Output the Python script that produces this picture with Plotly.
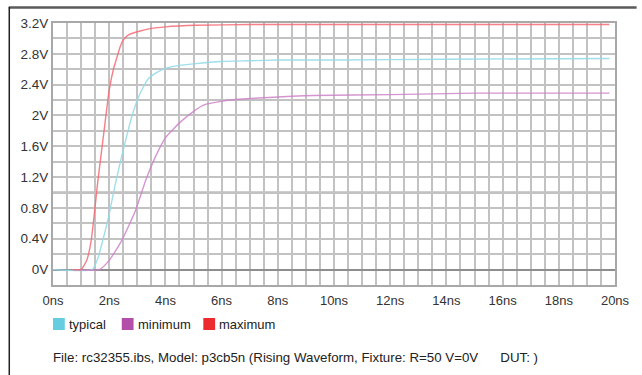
import plotly.graph_objects as go

# ---- data ----
series_names = ["typical", "minimum", "maximum"]

typical_t = [0, 1.4, 1.6, 1.8, 2.0, 2.2, 2.4, 2.6, 2.8, 3.0, 3.2, 3.4, 3.7, 4.0, 4.5, 5.0, 6.0, 7.0, 8.0, 10, 14, 19.8]
typical_v = [0, 0, 0.15, 0.42, 0.72, 1.08, 1.4, 1.7, 1.98, 2.2, 2.36, 2.48, 2.56, 2.61, 2.65, 2.67, 2.7, 2.71, 2.72, 2.72, 2.73, 2.74]

minimum_t = [0.7, 1.65, 2.0, 2.45, 2.94, 3.3, 3.64, 4.0, 4.55, 5.03, 5.4, 6.3, 7.5, 9.3, 12, 15, 19.8]
minimum_v = [0, 0, 0.12, 0.38, 0.77, 1.16, 1.46, 1.71, 1.92, 2.06, 2.14, 2.2, 2.23, 2.26, 2.27, 2.29, 2.29]

maximum_t = [0.7, 1.0, 1.2, 1.36, 1.6, 1.8, 2.0, 2.15, 2.28, 2.4, 2.5, 2.7, 3.04, 3.5, 4.0, 5.1, 7, 10, 19.8]
maximum_v = [0, 0, 0.12, 0.38, 1.16, 1.75, 2.33, 2.6, 2.76, 2.9, 2.98, 3.05, 3.09, 3.13, 3.15, 3.17, 3.18, 3.18, 3.18]

x_tickvals = [0, 2, 4, 6, 8, 10, 12, 14, 16, 18, 20]
x_ticktext = ["0ns", "2ns", "4ns", "6ns", "8ns", "10ns", "12ns", "14ns", "16ns", "18ns", "20ns"]
y_tickvals = [0, 0.4, 0.8, 1.2, 1.6, 2.0, 2.4, 2.8, 3.2]
y_ticktext = ["0V", "0.4V", "0.8V", "1.2V", "1.6V", "2V", "2.4V", "2.8V", "3.2V"]

footer_text = ("File: rc32355.ibs, Model: p3cb5n (Rising Waveform, Fixture: R=50 V=0V"
               "\u00a0\u00a0\u00a0\u00a0\u00a0\u00a0DUT: )")

# ---- styling ----
swatch_colors = ["#66cde0", "#b34fab", "#ec2a2f"]
line_colors = ["rgba(150,218,232,0.9)", "rgba(205,130,200,0.85)", "rgba(245,105,115,0.85)"]
FONT = "Liberation Sans, Arial, sans-serif"
GRID = "#c2c2c2"

W, H = 642, 375
L, R, T, B = 53, 17, 23, 90
PW, PH = W - L - R, H - T - B


def px_x(px):
    return (px - L) / PW


def px_y(py):
    return (H - B - py) / PH


fig = go.Figure()
series = [(typical_t, typical_v), (minimum_t, minimum_v), (maximum_t, maximum_v)]
for i, (t, v) in enumerate(series):
    fig.add_trace(go.Scatter(x=t, y=v, mode="lines", name=series_names[i],
                             line=dict(color=line_colors[i], width=1.4, shape="spline", smoothing=0.5),
                             showlegend=False, hoverinfo="skip"))

shapes = []
# darker reference line at 1V
shapes.append(dict(type="line", xref="x", yref="y", x0=0, x1=20, y0=1.0, y1=1.0,
                   line=dict(color="#a0a0a0", width=2), layer="below"))
# outer frame (top and left)
shapes.append(dict(type="line", xref="paper", yref="paper", x0=px_x(8), x1=px_x(W + 5),
                   y0=px_y(7.5), y1=px_y(7.5), line=dict(color="#5a5a5a", width=2.5)))
shapes.append(dict(type="line", xref="paper", yref="paper", x0=px_x(8.5), x1=px_x(8.5),
                   y0=px_y(7), y1=px_y(H + 5), line=dict(color="#222222", width=1.5)))

annotations = []
# manual legend
legend_swatch_x = [53, 123, 206]
for i, name in enumerate(series_names):
    x0 = legend_swatch_x[i]
    shapes.append(dict(type="rect", xref="paper", yref="paper",
                       x0=px_x(x0), x1=px_x(x0 + 12), y0=px_y(318), y1=px_y(330),
                       fillcolor=swatch_colors[i], line=dict(width=0)))
    annotations.append(dict(xref="paper", yref="paper", x=px_x(x0 + 14), y=px_y(324),
                            xanchor="left", yanchor="middle", text=name, showarrow=False,
                            font=dict(family=FONT, size=13, color="#222222")))

annotations.append(dict(xref="paper", yref="paper", x=px_x(51), y=px_y(357),
                        xanchor="left", yanchor="middle", text=footer_text, showarrow=False,
                        font=dict(family=FONT, size=13.3, color="#222222")))

fig.update_layout(
    width=W, height=H,
    margin=dict(l=L, r=R, t=T, b=B),
    paper_bgcolor="white", plot_bgcolor="white",
    font=dict(family=FONT, size=13, color="#333333"),
    showlegend=False,
    shapes=shapes,
    annotations=annotations,
    xaxis=dict(range=[0, 20], tickvals=x_tickvals, ticktext=x_ticktext,
               showgrid=True, gridcolor=GRID, gridwidth=2,
               minor=dict(dtick=0.5, tick0=0, showgrid=True, gridcolor=GRID, gridwidth=2),
               zeroline=False, showline=True, linecolor="#a8a8a8", linewidth=2, mirror=True,
               ticks="outside", ticklen=2, tickcolor="rgba(0,0,0,0)",
               tickfont=dict(family=FONT, size=13, color="#333333")),
    yaxis=dict(range=[-0.2, 3.2], tickvals=y_tickvals, ticktext=y_ticktext,
               showgrid=True, gridcolor=GRID, gridwidth=2,
               minor=dict(dtick=0.2, tick0=0, showgrid=True, gridcolor=GRID, gridwidth=2),
               zeroline=True, zerolinecolor="#8e8e8e", zerolinewidth=2,
               showline=True, linecolor="#a8a8a8", linewidth=2, mirror=True,
               ticks="", ticklabelstandoff=0,
               tickfont=dict(family=FONT, size=13.5, color="#333333")),
)

fig.write_html("out.html", config={"displayModeBar": False},
               post_script="document.body.style.margin='0';")
